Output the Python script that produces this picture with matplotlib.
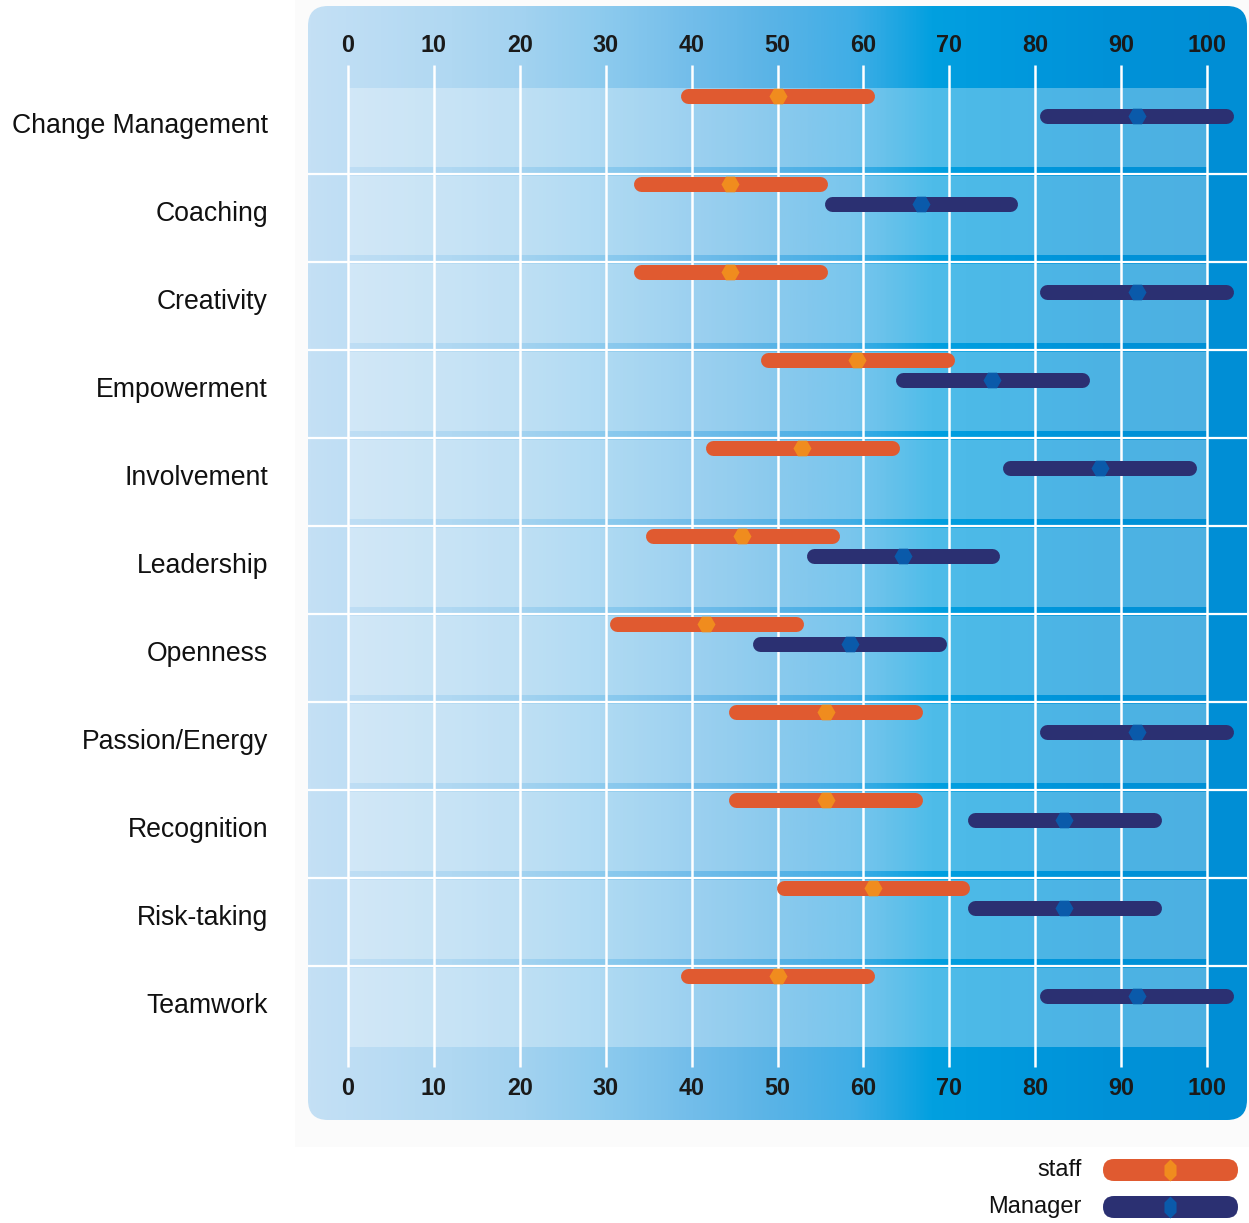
import numpy as np
import matplotlib
matplotlib.use("Agg")
import matplotlib.pyplot as plt
from matplotlib.patches import FancyBboxPatch, Rectangle
from matplotlib.colors import LinearSegmentedColormap

categories = ["Change Management", "Coaching", "Creativity", "Empowerment", "Involvement",
              "Leadership", "Openness", "Passion/Energy", "Recognition", "Risk-taking", "Teamwork"]
staff = [50.0, 44.5, 44.5, 59.3, 52.9, 45.9, 41.7, 55.6, 55.6, 61.1, 50.0]
manager = [91.8, 66.7, 91.8, 75.0, 87.5, 64.6, 58.4, 91.8, 83.4, 83.4, 91.8]
spread = 10.4  # half width of every range bar
ticks = list(range(0, 101, 10))

plt.rcParams['font.family'] = ['Liberation Sans', 'DejaVu Sans']

W, H = 1249, 1223
fig = plt.figure(figsize=(W / 100, H / 100), dpi=100)

# background layer in pixel units
bg = fig.add_axes([0, 0, 1, 1])
bg.axis('off')
bg.add_patch(Rectangle((295, 0), W - 295, 1147, fc='#fbfbfb', ec='none', zorder=0))

panel_cmap = LinearSegmentedColormap.from_list('panel', [
    (0.0, '#c4e0f5'), (0.15, '#b0d8f2'), (0.23, '#a2d2f0'), (0.31, '#8ecbee'),
    (0.41, '#72bdea'), (0.50, '#58b3e6'), (0.58, '#40aee6'), (0.63, '#1ea6e2'),
    (0.665, '#02a0e0'), (0.74, '#009ade'), (0.85, '#0092d8'), (1.0, '#008ed5')])
panel = FancyBboxPatch((308, 6), 939, 1114, boxstyle="round,pad=0,rounding_size=20",
                       fc='none', ec='none')
bg.add_patch(panel)
im = bg.imshow(np.linspace(0, 1, 500).reshape(1, -1), cmap=panel_cmap,
               extent=(308, 1247, 1120, 6), aspect='auto', interpolation='bilinear', zorder=1)
im.set_clip_path(panel)

# legend
for label, bar_c, mk_c, y in [("staff", '#e05a30', '#f08c1e', 1170),
                              ("Manager", '#2b3072', '#0a5aaa', 1207)]:
    bg.add_patch(FancyBboxPatch((1103, y - 11), 135, 22,
                                boxstyle="round,pad=0,rounding_size=11", fc=bar_c, ec='none',
                                zorder=2))
    bg.plot(1170, y, marker=[(0, 1), (0.55, 0.45), (0.55, -0.45), (0, -1), (-0.55, -0.45), (-0.55, 0.45)],
            ms=15.8, color=mk_c, mec='none', zorder=3)
    bg.text(1082, y, label, ha='right', va='center', fontsize=17, color='#111111')

bg.set_xlim(0, W)
bg.set_ylim(H, 0)

# data axes: 0..100 scale, one row per category
px = 8.59
ax = fig.add_axes([308 / W, 1 - 1120 / H, 939 / W, 1114 / H])
ax.set_facecolor('none')
ax.set_xlim(-(348 - 308) / px, 100 + (1247 - 1207) / px)
ax.set_ylim((1120 - 123) / 88, (6 - 123) / 88)
for s in ax.spines.values():
    s.set_visible(False)

n = len(categories)
for i in range(n):
    ax.add_patch(Rectangle((0, i - 0.398), 100, 0.898, fc='white', alpha=0.3, lw=0, zorder=1))
for i in range(n - 1):
    ax.axhline(i + 0.575, color='white', lw=1.6, zorder=2)
ax.vlines(ticks, -0.66, 10.73, colors='white', lw=1.8, zorder=2)

for t in ticks:
    ax.text(t, -0.886, str(t), ha='center', va='center', fontsize=16.8,
            weight='bold', color='#1a1a1a')
    ax.text(t, 10.966, str(t), ha='center', va='center', fontsize=16.8,
            weight='bold', color='#1a1a1a')

for i in range(n):
    ys = i - 0.307
    ym = i - 0.08
    ax.plot([staff[i] - spread, staff[i] + spread], [ys, ys], color='#e05a30', lw=10.8,
            solid_capstyle='round', zorder=3)
    ax.plot(staff[i], ys, marker='H', ms=13, color='#f08c1e', mec='none', zorder=4)
    ax.plot([manager[i] - spread, manager[i] + spread], [ym, ym], color='#2b3072', lw=10.8,
            solid_capstyle='round', zorder=3)
    ax.plot(manager[i], ym, marker='H', ms=13, color='#0a5aaa', mec='none', zorder=4)

ax.set_xticks([])
ax.set_yticks(range(n))
ax.set_yticklabels(categories, fontsize=19.2, color='#111111')
ax.tick_params(axis='y', length=0, pad=28.8)

fig.savefig('out.png', dpi=100)
